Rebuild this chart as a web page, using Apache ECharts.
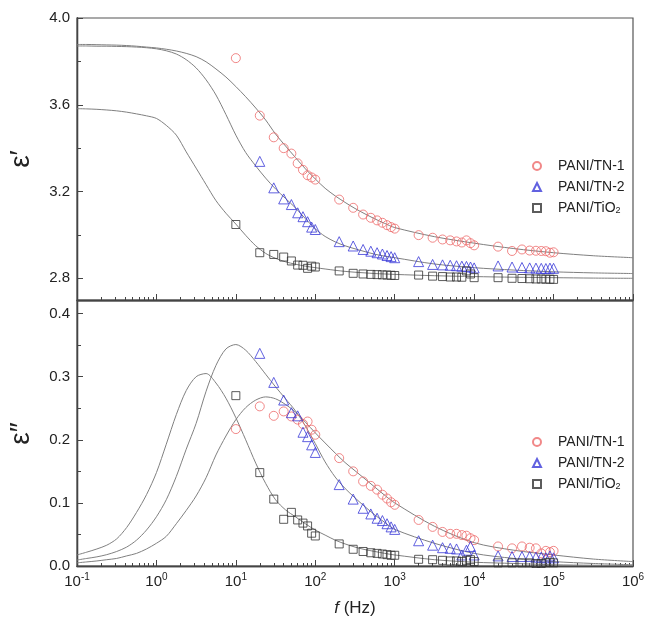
<!DOCTYPE html>
<html><head><meta charset="utf-8">
<script src="https://cdn.jsdelivr.net/npm/echarts@6/dist/echarts.min.js"></script>
<style>html,body{margin:0;padding:0;background:#fff}#c{width:646px;height:625px}</style>
</head><body><div id="c"></div>
<script>
// measured frequencies (Hz)
const freq = [10,20,30,40,50,60,70,80,90,100,200,300,400,500,600,700,800,900,1000,2000,3000,4000,5000,6000,7000,8000,9000,10000,20000,30000,40000,50000,60000,70000,80000,90000,100000];
const seriesNames = ['PANI/TN-1','PANI/TN-2','PANI/TiO2'];

// epsilon' (real part) data
const eps1_TN1 = [3.815,3.55,3.45,3.40,3.375,3.33,3.30,3.275,3.265,3.255,3.163,3.125,3.094,3.079,3.067,3.056,3.045,3.036,3.029,2.999,2.987,2.979,2.975,2.970,2.965,2.975,2.962,2.952,2.946,2.926,2.933,2.928,2.927,2.926,2.925,2.918,2.920];
const eps1_TN2 = [null,3.339,3.217,3.166,3.140,3.102,3.084,3.061,3.036,3.025,2.969,2.949,2.933,2.925,2.918,2.912,2.905,2.900,2.895,2.877,2.864,2.862,2.860,2.858,2.856,2.855,2.852,2.848,2.857,2.852,2.850,2.848,2.847,2.846,2.845,2.847,2.846];
const eps1_TiO2 = [3.048,2.918,2.910,2.898,2.880,2.861,2.860,2.846,2.856,2.852,2.834,2.823,2.820,2.818,2.817,2.816,2.815,2.814,2.813,2.815,2.810,2.808,2.806,2.806,2.805,2.834,2.820,2.803,2.803,2.800,2.799,2.798,2.797,2.797,2.796,2.796,2.795];

// epsilon'' (imaginary part) data
const eps2_TN1 = [0.217,0.253,0.238,0.245,0.237,0.232,0.225,0.229,0.216,0.208,0.171,0.150,0.134,0.127,0.121,0.113,0.107,0.101,0.097,0.073,0.062,0.054,0.051,0.051,0.049,0.048,0.044,0.041,0.031,0.028,0.031,0.029,0.028,0.020,0.024,0.022,0.024];
const eps2_TN2 = [null,0.337,0.291,0.263,0.243,0.238,0.212,0.205,0.192,0.180,0.129,0.106,0.0915,0.0825,0.0757,0.072,0.067,0.062,0.058,0.040,0.033,0.029,0.028,0.027,0.0175,0.025,0.031,0.0175,0.016,0.015,0.015,0.015,0.014,0.014,0.013,0.016,0.013];
const eps2_TiO2 = [0.270,0.148,0.106,0.074,0.085,0.073,0.068,0.0635,0.052,0.0476,0.035,0.0265,0.023,0.021,0.020,0.019,0.018,0.017,0.017,0.0106,0.010,0.009,0.008,0.008,0.007,0.009,0.010,0.007,0.005,0.005,0.005,0.005,0.004,0.004,0.005,0.006,0.005];

// fitted curves at these frequencies
const fitFreq = [0.1,0.133,0.178,0.237,0.316,0.422,0.562,0.75,1,1.33,1.78,2.37,3.16,4.22,5.62,7.5,10,13.3,17.8,23.7,31.6,42.2,56.2,75,100,133,178,237,316,422,562,750,1000,3162,10000,31623,100000,316228,1000000];
const fit1_TN1 = [3.878,3.878,3.877,3.876,3.875,3.873,3.870,3.866,3.862,3.856,3.848,3.837,3.822,3.798,3.765,3.728,3.684,3.637,3.585,3.530,3.465,3.410,3.357,3.305,3.258,3.215,3.180,3.150,3.122,3.097,3.074,3.053,3.034,2.992,2.962,2.937,2.918,2.904,2.895];
const fit1_TN2 = [3.871,3.871,3.870,3.870,3.869,3.868,3.866,3.863,3.858,3.849,3.834,3.808,3.770,3.715,3.645,3.555,3.460,3.380,3.318,3.262,3.212,3.168,3.125,3.075,3.028,2.993,2.968,2.950,2.936,2.923,2.911,2.902,2.895,2.866,2.849,2.838,2.830,2.825,2.822];
const fit1_TiO2 = [3.582,3.581,3.579,3.576,3.572,3.566,3.558,3.549,3.537,3.505,3.460,3.383,3.308,3.232,3.158,3.100,3.050,2.998,2.950,2.915,2.892,2.876,2.865,2.856,2.849,2.843,2.837,2.832,2.828,2.825,2.822,2.820,2.818,2.812,2.808,2.805,2.803,2.801,2.800];
const fit2_TN1 = [0.005,0.0065,0.008,0.010,0.012,0.016,0.020,0.027,0.036,0.047,0.067,0.088,0.111,0.140,0.176,0.206,0.232,0.251,0.263,0.268,0.265,0.256,0.244,0.228,0.211,0.195,0.179,0.164,0.151,0.138,0.125,0.112,0.100,0.063,0.037,0.025,0.0175,0.011,0.007];
const fit2_TN2 = [0.0095,0.012,0.0145,0.018,0.023,0.030,0.041,0.057,0.078,0.105,0.142,0.185,0.226,0.277,0.318,0.344,0.351,0.342,0.324,0.304,0.284,0.265,0.246,0.222,0.194,0.165,0.141,0.123,0.108,0.094,0.081,0.069,0.058,0.036,0.020,0.012,0.007,0.004,0.002];
const fit2_TiO2 = [0.0175,0.022,0.027,0.033,0.043,0.061,0.085,0.113,0.148,0.193,0.240,0.278,0.300,0.305,0.290,0.266,0.235,0.200,0.163,0.131,0.105,0.089,0.078,0.067,0.057,0.049,0.041,0.035,0.030,0.026,0.023,0.020,0.0175,0.010,0.006,0.004,0.002,0.0012,0.0008];

// axis ticks
const xMajorTicks = [0.1,1,10,100,1000,10000,100000,1000000];
const yTopLabels = [2.8,3.2,3.6,4.0];
const yTopMinor = [3.0,3.4,3.8];
const yBotLabels = [0.0,0.1,0.2,0.3,0.4];
const yBotMinor = [0.05,0.15,0.25,0.35];

(function () {
const xMinorTicks = [];
for (let d = 0; d < xMajorTicks.length - 1; d++) {
  for (let m = 2; m <= 9; m++) xMinorTicks.push(+(xMajorTicks[d] * m).toPrecision(3));
}

const colors = ['#ee6a6a', '#3a3ad8', '#333333'];
const symbols = ['circle', 'triangle', 'rect'];
const symSizes = [9, 10, 8];
const FONT = 'Liberation Sans, Arial, sans-serif';

function pts(vals) {
  const out = [];
  vals.forEach((v, i) => { if (v !== null) out.push([freq[i], v]); });
  return out;
}
function fitPts(vals) { return vals.map((v, i) => [fitFreq[i], v]); }

const series = [];
const upperData = [eps1_TN1, eps1_TN2, eps1_TiO2];
const lowerData = [eps2_TN1, eps2_TN2, eps2_TiO2];
const upperFit = [fit1_TN1, fit1_TN2, fit1_TiO2];
const lowerFit = [fit2_TN1, fit2_TN2, fit2_TiO2];

[[upperFit, 0, 0], [lowerFit, 2, 2]].forEach(([arr, xi, yi]) => {
  arr.forEach((vals, k) => {
    series.push({
      type: 'line', name: 'fit' + xi + k, xAxisIndex: xi, yAxisIndex: yi,
      data: fitPts(vals), smooth: 0.3, showSymbol: false, symbol: 'none',
      lineStyle: { color: '#808080', width: 1 }, silent: true, z: 1
    });
  });
});
[[upperData, 0, 0], [lowerData, 2, 2]].forEach(([arr, xi, yi]) => {
  arr.forEach((vals, k) => {
    series.push({
      type: 'scatter', name: seriesNames[k], xAxisIndex: xi, yAxisIndex: yi,
      data: pts(vals), symbol: symbols[k], symbolSize: symSizes[k],
      itemStyle: { color: 'rgba(255,255,255,0)', borderColor: colors[k], borderWidth: 1 },
      z: 3
    });
  });
});

const axisLineStyle = { color: '#444', width: 1.3 };

function xAx(grid, major, labels) {
  return {
    type: 'log', logBase: 10, gridIndex: grid, min: 0.1, max: 1000000, position: 'bottom',
    axisLine: { show: true, onZero: false, lineStyle: axisLineStyle },
    axisTick: { show: true, inside: true, length: major ? 6 : 3, lineStyle: { color: '#444', width: 1 },
      customValues: major ? xMajorTicks : xMinorTicks },
    axisLabel: labels ? {
      show: true, customValues: xMajorTicks, margin: 6, fontFamily: FONT, color: '#222',
      formatter: v => '{b|10}{s|' + Math.round(Math.log10(v)) + '}',
      rich: { b: { fontSize: 15, fontFamily: FONT, color: '#222' },
              s: { fontSize: 10, fontFamily: FONT, color: '#222', padding: [0, 0, 9, 0] } }
    } : { show: false },
    splitLine: { show: false }, minorSplitLine: { show: false }
  };
}
function yAx(grid, min, max, labels, ticks, major, name) {
  return {
    type: 'value', gridIndex: grid, min: min, max: max, position: 'left',
    axisLine: { show: true, lineStyle: axisLineStyle },
    axisTick: { show: true, inside: true, length: major ? 6 : 4, lineStyle: { color: '#444', width: 1 }, customValues: ticks },
    axisLabel: major ? { show: true, customValues: labels, fontSize: 15, fontFamily: FONT, color: '#222', margin: 7,
      formatter: v => v.toFixed(1) } : { show: false },
    splitLine: { show: false },
    name: name || '', nameLocation: 'middle', nameGap: 42, nameRotate: 90, nameMoveOverlap: false,
    nameTextStyle: { fontSize: 28, fontFamily: FONT, color: '#222' }
  };
}

const option = {
  animation: false,
  backgroundColor: '#fff',
  grid: [
    { left: 77, right: 13, top: 18, height: 282, show: true, borderColor: '#555', borderWidth: 1.2,
      backgroundColor: 'transparent', containLabel: false, outerBoundsMode: 'none' },
    { left: 77, right: 13, top: 301, height: 265, show: true, borderColor: '#555', borderWidth: 1.2,
      backgroundColor: 'transparent', containLabel: false, outerBoundsMode: 'none' }
  ],
  xAxis: [
    xAx(0, true, false),
    xAx(0, false, false),
    Object.assign(xAx(1, true, true), {
      name: '{i|f} (Hz)', nameLocation: 'middle', nameGap: 34, nameMoveOverlap: false,
      nameTextStyle: { fontSize: 17, fontFamily: FONT, color: '#222',
        rich: { i: { fontSize: 17, fontStyle: 'italic', fontFamily: FONT, color: '#222' } } }
    }),
    xAx(1, false, false)
  ],
  yAxis: [
    yAx(0, 2.7, 4.0, yTopLabels, yTopLabels, true, 'ε′'),
    yAx(0, 2.7, 4.0, null, yTopMinor, false),
    yAx(1, 0, 0.42, yBotLabels, yBotLabels, true, 'ε″'),
    yAx(1, 0, 0.42, null, yBotMinor, false)
  ],
  legend: [0, 1].map(i => ({
    orient: 'vertical', left: 527, top: i === 0 ? 153 : 429, itemGap: 5, itemWidth: 8, itemHeight: 8,
    selectedMode: false, data: seriesNames,
    textStyle: { fontSize: 14, fontFamily: FONT, color: '#222', lineHeight: 16,
      rich: { n: { fontSize: 14, fontFamily: FONT, color: '#222', padding: [0, 0, 0, 12] },
              sub: { fontSize: 9, fontFamily: FONT, color: '#222', padding: [6, 0, 0, 0] } } },
    formatter: n => n === 'PANI/TiO2' ? '{n|PANI/TiO}{sub|2}' : '{n|' + n + '}'
  })),
  series: series
};

const chart = echarts.init(document.getElementById('c'), null, { renderer: 'canvas' });
chart.setOption(option);
})();
</script>
</body></html>
